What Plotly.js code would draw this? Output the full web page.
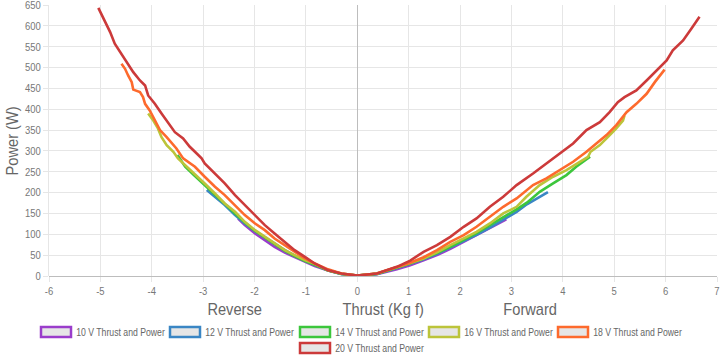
<!DOCTYPE html>
<html>
<head>
<meta charset="utf-8">
<script src="https://cdn.plot.ly/plotly-3.0.1.min.js"></script>
<style>
  html, body { margin: 0; padding: 0; background: #ffffff; }
  #chart { width: 720px; height: 360px; }
</style>
</head>
<body>
<div id="chart"></div>
<script>
// ---- Data ----
const seriesNames = [
  "10 V Thrust and Power",
  "12 V Thrust and Power",
  "14 V Thrust and Power",
  "16 V Thrust and Power",
  "18 V Thrust and Power",
  "20 V Thrust and Power"
];

const xTickValues = [-6,-5,-4,-3,-2,-1,0,1,2,3,4,5,6,7];
const xTickLabels = ["-6","-5","-4","-3","-2","-1","0","1","2","3","4","5","6","7"];

const thrust10V = [-2.32,-2.19,-1.99,-1.80,-1.61,-1.41,-1.22,-1.02,-0.83,-0.57,-0.31,0,0.38,0.77,1.03,1.29,1.55,1.81,2.07,2.32,2.58,2.78,2.90];
const power10V  = [138,122,102,86,70,56,45,34,24,13,5,1,4,16,26,38,50,65,82,98,116,130,136];

const thrust12V = [-2.93,-2.77,-2.58,-2.38,-2.19,-1.99,-1.80,-1.61,-1.41,-1.22,-1.02,-0.83,-0.57,-0.31,0,0.38,0.77,1.03,1.29,1.55,1.81,2.07,2.32,2.58,2.84,3.10,3.30,3.55,3.71];
const power12V  = [206,190,170,146,126,108,93,77,62,49,37,27,14,5,1,5,19,29,40,53,68,83,99,116,135,154,172,190,201];

const thrust14V = [-3.50,-3.35,-3.16,-2.97,-2.77,-2.58,-2.38,-2.19,-1.99,-1.80,-1.61,-1.41,-1.22,-1.02,-0.83,-0.57,-0.31,0,0.38,0.77,1.03,1.29,1.55,1.81,2.07,2.32,2.58,2.84,3.10,3.30,3.55,3.81,4.07,4.26,4.49,4.53];
const power14V  = [290,262,240,218,194,172,150,128,108,92,76,60,48,36,27,13,5,1,5,19,30,42,55,70,86,103,122,140,160,176,202,222,242,262,284,286];

const thrust16V = [-4.07,-3.97,-3.88,-3.81,-3.71,-3.58,-3.49,-3.35,-3.16,-2.97,-2.77,-2.58,-2.38,-2.19,-1.99,-1.80,-1.61,-1.41,-1.22,-1.02,-0.83,-0.57,-0.31,0,0.38,0.77,1.03,1.29,1.55,1.81,2.07,2.32,2.58,2.84,3.10,3.29,3.55,3.81,4.07,4.33,4.49,4.54,4.72,4.88,5.04,5.17,5.20];
const power16V  = [390,373,354,333,314,298,282,266,246,222,198,174,154,130,110,94,78,62,50,38,29,14,6,1,6,20,31,42,57,74,90,106,126,150,166,190,218,238,254,274,286,298,314,334,354,373,385];

const thrust18V = [-4.59,-4.52,-4.46,-4.39,-4.36,-4.23,-4.17,-4.13,-4.04,-3.94,-3.84,-3.71,-3.61,-3.52,-3.39,-3.16,-2.97,-2.77,-2.58,-2.38,-2.19,-1.99,-1.80,-1.61,-1.41,-1.22,-1.02,-0.83,-0.57,-0.31,0,0.38,0.77,1.03,1.29,1.55,1.81,2.07,2.32,2.58,2.84,3.10,3.42,3.68,3.94,4.20,4.46,4.65,4.85,5.04,5.24,5.43,5.63,5.79,5.98];
const power18V  = [509,497,481,465,447,441,429,413,397,373,350,333,318,306,282,262,238,214,194,170,146,126,110,90,74,58,42,30,16,6,1,6,21,32,45,62,82,98,118,142,166,186,218,234,254,274,298,318,338,362,393,413,437,465,495];

const thrust20V = [-5.04,-4.91,-4.81,-4.72,-4.59,-4.46,-4.36,-4.23,-4.13,-4.07,-3.94,-3.81,-3.68,-3.55,-3.39,-3.26,-3.16,-3.03,-2.97,-2.77,-2.58,-2.38,-2.19,-1.99,-1.80,-1.61,-1.41,-1.22,-1.02,-0.83,-0.57,-0.31,0,0.38,0.77,1.03,1.29,1.55,1.81,2.07,2.32,2.58,2.84,3.10,3.42,3.68,3.94,4.20,4.46,4.72,4.91,5.07,5.20,5.43,5.63,5.82,6.02,6.14,6.34,6.50,6.66];
const power20V  = [643,609,585,557,533,509,489,469,457,433,413,390,366,345,330,310,298,282,270,246,222,194,170,146,122,102,82,62,46,30,14,6,1,6,22,37,58,74,94,118,138,166,190,218,246,270,294,318,350,369,393,417,429,445,469,493,517,541,565,593,622];

const xTitleLeft = "Reverse";
const xTitleMid = "Thrust (Kg f)";
const xTitleRight = "Forward";
const yTitle = "Power (W)";

// ---- Styling ----
const colors = ["#9a3dcb", "#3a86c4", "#3cc63c", "#bcc43a", "#fd6a2d", "#cc3a3a"];
const FONT = "'Liberation Sans', Arial, sans-serif";
const NARROW = 0.86; // reference text is a condensed face

const xs = [thrust10V, thrust12V, thrust14V, thrust16V, thrust18V, thrust20V];
const ys = [power10V, power12V, power14V, power16V, power18V, power20V];

const traces = xs.map((x, i) => ({
  type: "scatter",
  mode: "lines",
  x: x,
  y: ys[i],
  name: seriesNames[i],
  line: { color: colors[i], width: 2.6 },
  hoverinfo: "x+y+name",
  showlegend: false
}));

// pixel geometry of the plot area
const L = 49, R = 717, T = 5, B = 276;
const W = 720, H = 360;
const px = p => (p - L) / (R - L);
const py = p => (B - p) / (B - T);

const annotations = [
  { text: xTitleLeft, x: px(235), y: py(309) },
  { text: xTitleMid, x: px(383), y: py(309) },
  { text: xTitleRight, x: px(530), y: py(309) }
].map(a => Object.assign(a, {
  xref: "paper", yref: "paper", showarrow: false,
  xanchor: "center", yanchor: "middle",
  font: { family: FONT, size: 17, color: "#666666" }
}));

annotations.push({
  text: yTitle, xref: "paper", yref: "paper", showarrow: false,
  x: px(12), y: py(141), xanchor: "center", yanchor: "middle", textangle: -90,
  font: { family: FONT, size: 17, color: "#666666" }
});

// custom legend (Chart.js-like boxes)
const legendSlots = [
  { bx: 41, cy: 332 }, { bx: 170, cy: 332 }, { bx: 300, cy: 332 },
  { bx: 429, cy: 332 }, { bx: 558, cy: 332 }, { bx: 300, cy: 348 }
];
const shapes = [];
legendSlots.forEach((s, i) => {
  shapes.push({
    type: "rect", xref: "paper", yref: "paper",
    x0: px(s.bx), x1: px(s.bx + 30), y0: py(s.cy + 5), y1: py(s.cy - 5),
    line: { color: colors[i], width: 2.5 },
    fillcolor: "#e6e6e6"
  });
  annotations.push({
    text: seriesNames[i], xref: "paper", yref: "paper", showarrow: false,
    x: px(s.bx + 79.5), y: py(s.cy), xanchor: "center", yanchor: "middle",
    font: { family: FONT, size: 10.1, color: "#666666" }
  });
});

const layout = {
  width: W, height: H,
  margin: { l: L, r: W - R, t: T, b: H - B, pad: 0 },
  paper_bgcolor: "#ffffff",
  plot_bgcolor: "#ffffff",
  showlegend: false,
  font: { family: FONT, size: 11, color: "#777777" },
  xaxis: {
    range: [-6, 7],
    tickmode: "array", tickvals: xTickValues, ticktext: xTickLabels,
    showgrid: true, gridcolor: "#e6e6e6", gridwidth: 1,
    zeroline: true, zerolinecolor: "#bdbdbd", zerolinewidth: 1,
    showline: false,
    ticks: "outside", ticklen: 5, tickcolor: "#e6e6e6",
    tickfont: { family: FONT, size: 11, color: "#777777" },
    ticklabeloverflow: "allow",
    fixedrange: true
  },
  yaxis: {
    range: [0, 650], dtick: 50, tick0: 0,
    showgrid: true, gridcolor: "#e6e6e6", gridwidth: 1,
    zeroline: true, zerolinecolor: "#bdbdbd", zerolinewidth: 1,
    showline: true, linecolor: "#e6e6e6", linewidth: 1,
    ticks: "outside", ticklen: 5, tickcolor: "#e6e6e6",
    tickfont: { family: FONT, size: 11, color: "#777777" },
    ticklabeloverflow: "allow",
    fixedrange: true
  },
  annotations: annotations,
  shapes: shapes
};

Plotly.newPlot("chart", traces, layout, { displayModeBar: false, staticPlot: true }).then(gd => {
  // condense all text horizontally (centre-preserving) to mimic the narrow face of the reference
  gd.querySelectorAll("svg text").forEach(t => {
    const s = (t.textContent || "").trim();
    if (!s) return;
    const len = t.getComputedTextLength();
    if (len > 0) {
      t.setAttribute("textLength", (len * NARROW).toFixed(2));
      t.setAttribute("lengthAdjust", "spacingAndGlyphs");
    }
  });
});
</script>
</body>
</html>
